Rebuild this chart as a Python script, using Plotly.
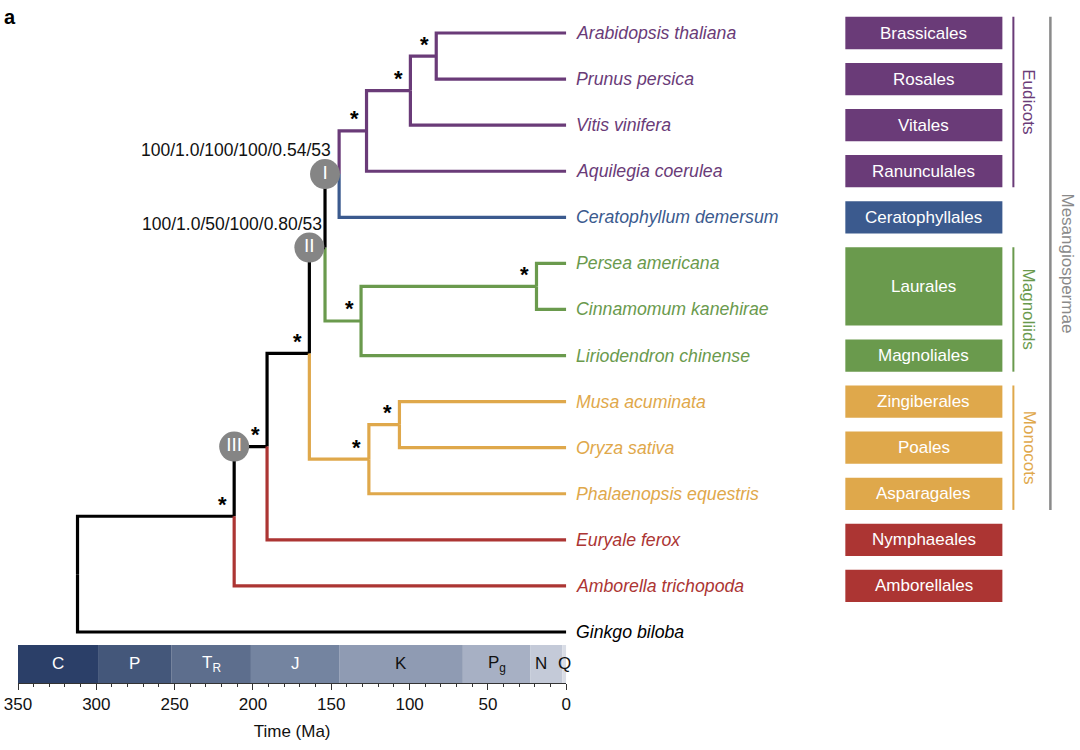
import plotly.graph_objects as go

# ---------------- data ----------------
tips = ["Arabidopsis thaliana", "Prunus persica", "Vitis vinifera", "Aquilegia coerulea",
        "Ceratophyllum demersum", "Persea americana", "Cinnamomum kanehirae",
        "Liriodendron chinense", "Musa acuminata", "Oryza sativa", "Phalaenopsis equestris",
        "Euryale ferox", "Amborella trichopoda", "Ginkgo biloba"]
tip_group = ["eud", "eud", "eud", "eud", "cer", "mag", "mag", "mag",
             "mon", "mon", "mon", "nym", "amb", "out"]

nodes = ["AP", "V", "Eud", "E", "PC", "Mag", "D", "MO", "Mon", "C", "B", "A", "root"]
node_children = [["Arabidopsis thaliana", "Prunus persica"], ["AP", "Vitis vinifera"],
                 ["V", "Aquilegia coerulea"], ["Eud", "Ceratophyllum demersum"],
                 ["Persea americana", "Cinnamomum kanehirae"], ["PC", "Liriodendron chinense"],
                 ["E", "Mag"], ["Musa acuminata", "Oryza sativa"],
                 ["MO", "Phalaenopsis equestris"], ["D", "Mon"], ["C", "Euryale ferox"],
                 ["B", "Amborella trichopoda"], ["A", "Ginkgo biloba"]]
node_age = [83, 99.5, 127.5, 145, 19, 131, 154, 106.5, 126, 164, 191, 212, 312]
node_group = ["eud", "eud", "eud", "back", "mag", "mag", "back", "mon", "mon",
              "back", "back", "back", "back"]
starred_nodes = ["AP", "V", "Eud", "PC", "Mag", "MO", "Mon", "C", "B", "A"]

circle_child = ["E", "D", "B"]
circle_label = ["I", "II", "III"]
support_child = ["E", "D"]
support_text = ["100/1.0/100/100/0.54/53", "100/1.0/50/100/0.80/53"]

orders = ["Brassicales", "Rosales", "Vitales", "Ranunculales", "Ceratophyllales", "Laurales",
          "Magnoliales", "Zingiberales", "Poales", "Asparagales", "Nymphaeales", "Amborellales"]
order_first = [0, 1, 2, 3, 4, 5, 7, 8, 9, 10, 11, 12]
order_last = [0, 1, 2, 3, 4, 6, 7, 8, 9, 10, 11, 12]
order_group = ["eud", "eud", "eud", "eud", "cer", "mag", "mag", "mon", "mon", "mon", "nym", "amb"]

clades = ["Eudicots", "Magnoliids", "Monocots"]
clade_first_order = [0, 5, 7]
clade_last_order = [3, 6, 9]
clade_group = ["eud", "mag", "mon"]
super_clade = "Mesangiospermae"
super_first_order, super_last_order = 0, 9

periods = ["C", "P", "T<sub>R</sub>", "J", "K", "P<sub>g</sub>", "N", "Q"]
period_start = [358.9, 298.9, 251.9, 201.3, 145.0, 66.0, 23.03, 2.58]
period_end = [298.9, 251.9, 201.3, 145.0, 66.0, 23.03, 2.58, 0.0]
period_color = ["#2b3f68", "#44577a", "#5d6e8d", "#7484a0", "#8f9bb3", "#a7b0c4", "#c4cad8", "#d9dde6"]
period_text = ["white", "white", "white", "white", "#111", "#111", "#111", "#111"]

colors = {"eud": "#6a3b78", "cer": "#3b5a8e", "mag": "#6a9a4d", "mon": "#dfa84b",
          "nym": "#ac3533", "amb": "#ac3533", "out": "#000000", "back": "#000000"}

FONT = "Liberation Sans, Arial, Helvetica, sans-serif"
S = 0.995  # horizontal correction observed between layout px and captured px

# ---------------- tree geometry ----------------
pos = {}
for i, t in enumerate(tips):
    pos[t] = (0.0, float(i), tip_group[i])
for n, ch, age, g in zip(nodes, node_children, node_age, node_group):
    y = sum(pos[c][1] for c in ch) / len(ch)
    pos[n] = (age, y, g)

fig = go.Figure()

segs = {}
for n, ch in zip(nodes, node_children):
    pa, py, _ = pos[n]
    for c in ch:
        ca, cy, cg = pos[c]
        col = colors[cg]
        xs, ys = segs.setdefault(col, ([], []))
        xs += [pa, pa, ca, None]
        ys += [py, cy, cy, None]

for col, (xs, ys) in segs.items():
    fig.add_trace(go.Scatter(x=xs, y=ys, mode="lines", line=dict(color=col, width=3.2),
                             hoverinfo="skip", showlegend=False))

parent = {}
for n, ch in zip(nodes, node_children):
    for c in ch:
        parent[c] = n

cx = [pos[parent[c]][0] for c in circle_child]
cy = [pos[c][1] for c in circle_child]
fig.add_trace(go.Scatter(x=cx, y=cy, mode="markers+text", text=circle_label,
                         textposition="middle center",
                         textfont=dict(color="white", size=19, family=FONT),
                         marker=dict(size=30, color="#858585", line=dict(width=0)),
                         hoverinfo="skip", showlegend=False))

annotations = []
for c, txt, xs_ in zip(support_child, support_text, [8, 15]):
    annotations.append(dict(x=pos[parent[c]][0], y=pos[c][1], xref="x", yref="y", text=txt,
                            showarrow=False, xanchor="right", yanchor="middle",
                            xshift=xs_, yshift=24, font=dict(size=17.5, color="#111", family=FONT)))

for n in starred_nodes:
    a, y, _ = pos[n]
    annotations.append(dict(x=a, y=y, xref="x", yref="y", text="<b>*</b>", showarrow=False,
                            xanchor="center", yanchor="middle", xshift=-12, yshift=12,
                            font=dict(size=22, color="black", family=FONT)))

for i, t in enumerate(tips):
    annotations.append(dict(x=0, y=i, xref="x", yref="y", text=f"<i>{t}</i>", showarrow=False,
                            xanchor="left", yanchor="middle", xshift=8,
                            font=dict(size=17.7, color=colors[tip_group[i]], family=FONT)))

shapes = []
for name, s, e, col, tc in zip(periods, period_start, period_end, period_color, period_text):
    s_vis = min(s, 350)
    shapes.append(dict(type="rect", xref="x", yref="y domain", x0=s_vis, x1=e, y0=0, y1=0.0565,
                       fillcolor=col, line=dict(width=0), layer="below"))
    shift = -5 if name == "N" else 0
    annotations.append(dict(x=(s_vis + e) / 2, y=0.0283, xref="x", yref="y domain", text=name,
                            showarrow=False, xanchor="center", yanchor="middle", xshift=shift,
                            font=dict(size=17, color=tc, family=FONT)))

BOX_X0, BOX_X1, HALF = 845, 1002, 0.35
for name, f, l, g in zip(orders, order_first, order_last, order_group):
    shapes.append(dict(type="rect", xref="x2", yref="y", x0=BOX_X0, x1=BOX_X1,
                       y0=f - HALF, y1=l + HALF, fillcolor=colors[g], line=dict(width=0)))
    annotations.append(dict(x=(BOX_X0 + BOX_X1) / 2, y=(f + l) / 2, xref="x2", yref="y",
                            text=name, showarrow=False, xanchor="center", yanchor="middle",
                            font=dict(size=17, color="white", family=FONT)))

for name, fo, lo, g in zip(clades, clade_first_order, clade_last_order, clade_group):
    y0 = order_first[fo] - HALF
    y1 = order_last[lo] + HALF
    shapes.append(dict(type="line", xref="x2", yref="y", x0=1013, x1=1013, y0=y0, y1=y1,
                       line=dict(color=colors[g], width=2)))
    annotations.append(dict(x=1013, y=(y0 + y1) / 2, xref="x2", yref="y", text=name,
                            showarrow=False, textangle=90, xanchor="left", yanchor="middle",
                            xshift=4, font=dict(size=17, color=colors[g], family=FONT)))

sy0 = order_first[super_first_order] - HALF
sy1 = order_last[super_last_order] + HALF
shapes.append(dict(type="line", xref="x2", yref="y", x0=1050, x1=1050, y0=sy0, y1=sy1,
                   line=dict(color="#8a8a8a", width=2.5)))
annotations.append(dict(x=1050, y=(sy0 + sy1) / 2, xref="x2", yref="y", text=super_clade,
                        showarrow=False, textangle=90, xanchor="left", yanchor="middle",
                        xshift=6, font=dict(size=17, color="#8a8a8a", family=FONT)))

annotations.append(dict(x=0, y=1, xref="paper", yref="paper", text="<b>a</b>", showarrow=False,
                        xanchor="left", yanchor="middle", xshift=-16, yshift=-7,
                        font=dict(size=20, color="black", family=FONT)))

x_split = (566 / S - 18) / 1062
fig.update_layout(
    width=1080, height=750,
    margin=dict(l=18, r=0, t=10, b=67),
    paper_bgcolor="white", plot_bgcolor="white",
    showlegend=False,
    shapes=shapes, annotations=annotations,
    xaxis=dict(domain=[0, x_split], range=[350, 0], tick0=0, dtick=50,
               ticks="outside", ticklen=6, tickwidth=1, tickcolor="#333",
               showline=True, linecolor="#333", linewidth=1, showgrid=False, zeroline=False,
               ticklabeloverflow="allow",
               minor=dict(dtick=10, ticks="outside", ticklen=3, tickcolor="#333", showgrid=False),
               tickfont=dict(size=17, color="#111", family=FONT),
               title=dict(text="Time (Ma)", standoff=11, font=dict(size=17, color="#111", family=FONT))),
    xaxis2=dict(domain=[x_split, 1], range=[566, 1080 * S], anchor="y", visible=False,
                showgrid=False, zeroline=False),
    yaxis=dict(range=[(683 - 33) / 46.077, (10 - 33) / 46.077], visible=False,
               showgrid=False, zeroline=False),
)

fig.write_html("out.html", config={"displayModeBar": False},
               post_script="document.body.style.margin='0';document.body.style.overflow='hidden';")
